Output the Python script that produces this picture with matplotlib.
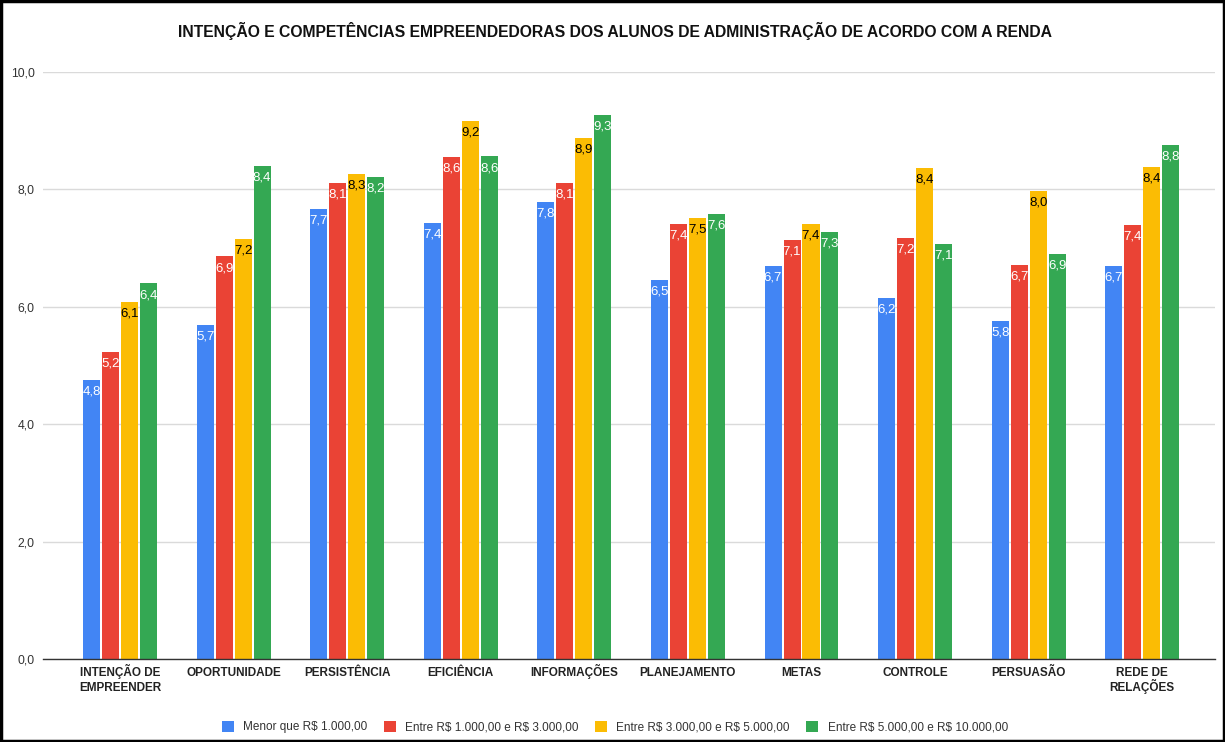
import matplotlib
matplotlib.use("Agg")
import matplotlib.pyplot as plt
from matplotlib.patches import Rectangle
import matplotlib.transforms as mtransforms
import numpy as np

plt.rcParams['font.family'] = ['Liberation Sans', 'DejaVu Sans']
plt.rcParams['text.parse_math'] = False

categories = ["INTENÇÃO DE\nEMPREENDER", "OPORTUNIDADE", "PERSISTÊNCIA", "EFICIÊNCIA",
              "INFORMAÇÕES", "PLANEJAMENTO", "METAS", "CONTROLE", "PERSUASÃO",
              "REDE DE\nRELAÇÕES"]
series_names = ["Menor que R$ 1.000,00", "Entre R$ 1.000,00 e R$ 3.000,00",
                "Entre R$ 3.000,00 e R$ 5.000,00", "Entre R$ 5.000,00 e R$ 10.000,00"]
menor_1000 = [4.75, 5.69, 7.67, 7.43, 7.79, 6.46, 6.69, 6.15, 5.76, 6.69]
entre_1000_3000 = [5.23, 6.86, 8.11, 8.55, 8.11, 7.41, 7.14, 7.17, 6.71, 7.39]
entre_3000_5000 = [6.08, 7.16, 8.26, 9.17, 8.88, 7.51, 7.41, 8.36, 7.97, 8.38]
entre_5000_10000 = [6.40, 8.40, 8.21, 8.56, 9.27, 7.58, 7.27, 7.07, 6.90, 8.76]
yticks = [0, 2, 4, 6, 8, 10]
title = "INTENÇÃO E COMPETÊNCIAS EMPREENDEDORAS DOS ALUNOS DE ADMINISTRAÇÃO DE ACORDO COM A RENDA"

series = [menor_1000, entre_1000_3000, entre_3000_5000, entre_5000_10000]
colors = ["#4285F4", "#EA4335", "#FBBC04", "#34A853"]
label_colors = ["white", "white", "black", "white"]

fig = plt.figure(figsize=(12.25, 7.42), dpi=100)
ax = fig.add_axes([0.0351, 0.112, 0.9567, 0.791])

x = np.arange(len(categories))
step = 0.167
width = 0.15
for i, (vals, c, lc) in enumerate(zip(series, colors, label_colors)):
    pos = x + (i - 1.5) * step
    ax.bar(pos, vals, width=width, color=c, label=series_names[i], zorder=3)
    for p, v in zip(pos, vals):
        ax.text(p, v - 0.2, f"{v:.1f}".replace(".", ","), ha="center", va="center",
                fontsize=9.5, color=lc, zorder=4)

ax.set_ylim(0, 10)
ax.set_xlim(-0.678, 9.64)
ax.set_yticks(yticks)
ax.set_yticklabels([f"{t:.1f}".replace(".", ",") for t in yticks], fontsize=8.8, color="#333333")
ax.set_xticks(x)
ax.set_xticklabels([])
ax.tick_params(axis="both", length=0, pad=6)

# category labels aligned on the baseline of their first line
off = mtransforms.offset_copy(ax.get_xaxis_transform(), fig=fig, x=0, y=-17, units="dots")
for xi, cat in zip(x, categories):
    lines = cat.split("\n")
    for j, line in enumerate(lines):
        ax.text(xi, 0, line, transform=mtransforms.offset_copy(
                    ax.get_xaxis_transform(), fig=fig, x=0, y=-17 - 15 * j, units="dots"),
                ha="center", va="baseline", fontsize=8.5, fontweight="bold", color="#222222")

ax.grid(axis="y", color="#DADADA", linewidth=1, zorder=0)
for s in ["top", "right", "left"]:
    ax.spines[s].set_visible(False)
ax.spines["bottom"].set_color("#333333")
ax.spines["bottom"].set_linewidth(1)
ax.spines["bottom"].set_zorder(5)

fig.text(0.502, 0.958, title, ha="center", va="center", fontsize=11.3, fontweight="bold", color="#111111")

leg = fig.legend(loc="center", bbox_to_anchor=(0.502, 0.02), ncol=4, frameon=False,
                 fontsize=8.5, handlelength=1.0, handleheight=1.0, columnspacing=1.4,
                 handletextpad=0.8)
for t in leg.get_texts():
    t.set_color("#333333")

fig.patches.append(Rectangle((0.001, 0.001), 0.998, 0.998, transform=fig.transFigure,
                             fill=False, edgecolor="black", linewidth=2.5, zorder=10))

fig.savefig("out.png", dpi=100)
